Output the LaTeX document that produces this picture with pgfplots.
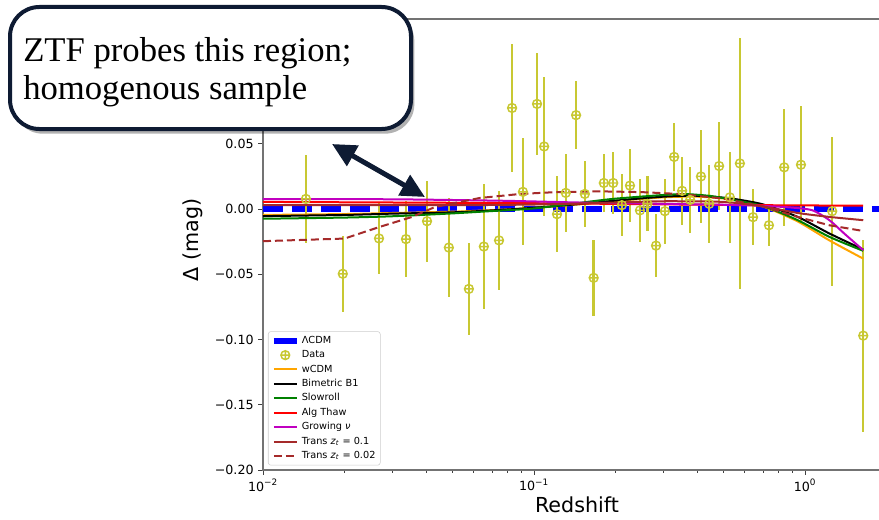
\documentclass[border=0pt]{standalone}
\usepackage{pgfplots}
\usepackage{pgfplotstable}
\pgfplotsset{compat=1.18}
\usepackage{fontspec}
\setmainfont{DejaVu Sans}
\newfontfamily\serifcallout{Liberation Serif}
\usetikzlibrary{arrows.meta,shadows}
\definecolor{datay}{HTML}{C8C832}
\definecolor{mplorange}{HTML}{FFA500}
\definecolor{mplgreen}{HTML}{008000}
\definecolor{mplmag}{HTML}{C000C0}
\definecolor{mplbrown}{HTML}{A52A2A}
\definecolor{navy}{HTML}{0E1B33}

\pgfplotstableread{
z d e
0.0144 0.0078 0.034
0.0197 -0.0496 0.029
0.0268 -0.0225 0.027
0.0337 -0.0230 0.029
0.0403 -0.0093 0.031
0.0485 -0.0295 0.038
0.0575 -0.0612 0.035
0.0653 -0.0287 0.048
0.0743 -0.0240 0.038
0.0830 0.0775 0.049
0.0910 0.0132 0.041
0.1026 0.0806 0.039
0.1090 0.0480 0.053
0.1216 -0.0039 0.029
0.1310 0.0124 0.030
0.1430 0.0720 0.026
0.1540 0.0116 0.025
0.1660 -0.0527 0.029
0.1810 0.0200 0.0225
0.1960 0.0200 0.024
0.2110 0.0030 0.024
0.2260 0.0180 0.028
0.2460 -0.0010 0.024
0.2620 0.0040 0.021
0.2820 -0.0280 0.024
0.3040 -0.0016 0.025
0.3290 0.0400 0.026
0.3520 0.0140 0.026
0.3770 0.0070 0.025
0.4130 0.0250 0.036
0.4430 0.0040 0.030
0.4820 0.0330 0.034
0.5280 0.0090 0.035
0.5750 0.0350 0.096
0.6430 -0.0062 0.0213
0.7360 -0.0124 0.016
0.8380 0.0320 0.045
0.9660 0.0340 0.045
1.2600 -0.0016 0.057
1.6400 -0.0970 0.0736
}\datatable

\begin{document}
\begin{tikzpicture}
\useasboundingbox (0,0) rectangle (659.25pt,389.25pt);
\clip (0,0) rectangle (659.25pt,389.25pt);
\begin{axis}[
  at={(197.25pt,36.75pt)}, anchor=south west,
  scale only axis, width=467.7pt, height=338.25pt,
  xmode=log, xmin=0.01, xmax=2, ymin=-0.2, ymax=0.1457,
  xtick={0.01,0.1,1},
  xticklabels={10\textsuperscript{−2},10\textsuperscript{−1},10\textsuperscript{0}},
  minor xtick={0.02,0.03,0.04,0.05,0.06,0.07,0.08,0.09,0.2,0.3,0.4,0.5,0.6,0.7,0.8,0.9,2},
  ytick={-0.2,-0.15,-0.1,-0.05,0,0.05},
  yticklabels={−0.20,−0.15,−0.10,−0.05,0.00,0.05},
  xtick pos=left, ytick pos=left,
  tick align=outside,
  major tick length=3.5pt, minor tick length=2pt,
  every tick/.style={black!75, line width=0.6pt},
  axis line style={black!55, line width=0.8pt},
  tick label style={font=\fontsize{9.5}{11}\selectfont},
  xlabel={Redshift}, ylabel={Δ (mag)},
  label style={font=\fontsize{15.5}{18}\selectfont},
  xlabel style={at={(axis description cs:0.5035,-0.077)}, anchor=center},
  ylabel style={at={(axis description cs:-0.1123,0.51)}, anchor=center},
  legend cell align=left,
  legend style={at={(axis description cs:0.008,0.01)}, anchor=south west,
    draw=black!20, rounded corners=2pt, fill=white,
    font=\fontsize{7.3}{8.5}\selectfont, inner sep=2pt, row sep=0.6pt,
    nodes={inner sep=1.6pt}},
  every axis plot/.append style={line width=1.5pt},
]
% LCDM
\addplot[blue, line width=4.5pt, dash pattern=on 15pt off 6.75pt,
  legend image code/.code={\draw[blue, line width=4.5pt, solid] (0cm,0cm) -- (0.6cm,0cm);}]
  coordinates {(0.01,0) (2,0)};
\addlegendentry{ΛCDM}
% Data
\addplot[only marks, mark=oplus, mark size=3.3pt, datay, line width=1.1pt,
  error bars/.cd, y dir=both, y explicit,
  error bar style={line width=1.8pt, datay}, error mark=none]
  table[x=z, y=d, y error=e] {\datatable};
\addlegendentry{Data}
% wCDM
\addplot[mplorange, smooth, tension=0.4] coordinates {
(0.01,-0.0045) (0.02,-0.0038) (0.03,-0.003) (0.05,-0.002) (0.07,-0.0008) (0.1,0.001)
(0.15,0.0038) (0.2,0.0062) (0.3,0.009) (0.4,0.0095) (0.53,0.0075) (0.7,0.002)
(0.94,-0.0095) (1.23,-0.024) (1.64,-0.038)};
\addlegendentry{wCDM}
% Bimetric
\addplot[black, smooth, tension=0.4] coordinates {
(0.01,-0.0054) (0.02,-0.0045) (0.03,-0.0035) (0.05,-0.0025) (0.07,-0.001) (0.1,0.001)
(0.15,0.004) (0.2,0.0065) (0.3,0.0095) (0.4,0.0102) (0.53,0.0082) (0.7,0.0036)
(0.94,-0.006) (1.23,-0.0187) (1.64,-0.031)};
\addlegendentry{Bimetric B1}
% Slowroll
\addplot[mplgreen, smooth, tension=0.4] coordinates {
(0.01,-0.0074) (0.02,-0.0065) (0.03,-0.0055) (0.05,-0.0033) (0.07,-0.0015) (0.1,0.0005)
(0.16,0.0057) (0.2,0.008) (0.3,0.0108) (0.37,0.0114) (0.45,0.0100) (0.53,0.0074)
(0.7,0.0023) (0.94,-0.0085) (1.23,-0.0213) (1.64,-0.032)};
\addlegendentry{Slowroll}
% Alg Thaw
\addplot[red, smooth, tension=0.4] coordinates {
(0.01,0.0055) (0.1,0.0045) (0.5,0.0032) (1.0,0.0028) (1.64,0.0026)};
\addlegendentry{Alg Thaw}
% Growing nu
\addplot[mplmag, smooth, tension=0.4] coordinates {
(0.01,0.0077) (0.03,0.0075) (0.076,0.0064) (0.15,0.005) (0.35,0.0038) (0.6,0.003)
(0.85,0.0015) (1.06,-0.0008) (1.23,-0.0085) (1.4,-0.019) (1.64,-0.0315)};
\addlegendentry{Growing \textit{ν}}
% Trans 0.1
\addplot[mplbrown, smooth, tension=0.4] coordinates {
(0.01,0.003) (0.05,0.003) (0.1,0.0035) (0.2,0.005) (0.3,0.006) (0.5,0.0055)
(0.7,0.002) (0.94,-0.003) (1.23,-0.006) (1.64,-0.0085)};
\addlegendentry{Trans \textit{z}\textsubscript{\textit{t}} = 0.1}
% Trans 0.02
\addplot[mplbrown, dash pattern=on 6pt off 3pt] coordinates {
(0.01,-0.0246) (0.02,-0.0226) (0.027,-0.0136) (0.0355,-0.006) (0.043,0.0015)
(0.054,0.0057) (0.063,0.0085) (0.089,0.0116) (0.12,0.013) (0.174,0.0136) (0.25,0.013)
(0.35,0.0115) (0.5,0.008) (0.7,0.002) (0.94,-0.006) (1.23,-0.0124) (1.64,-0.0168)};
\addlegendentry{Trans \textit{z}\textsubscript{\textit{t}} = 0.02}
\end{axis}
% callout
\draw[navy, line width=3pt, rounded corners=22pt, fill=white,
  drop shadow={shadow xshift=2.5pt, shadow yshift=-3.5pt, opacity=0.3, fill=black}]
  (7.5pt,292.5pt) rectangle (308.25pt,384pt);
\node[anchor=base west, inner sep=0pt, font=\serifcallout\fontsize{26}{30}\selectfont]
  at (17.25pt,343pt) {ZTF probes this region;};
\node[anchor=base west, inner sep=0pt, font=\serifcallout\fontsize{26}{30}\selectfont]
  at (17.25pt,314.25pt) {homogenous sample};
\draw[navy, line width=3.75pt,
  {Triangle[length=18pt,width=17pt]}-{Triangle[length=18pt,width=17pt]}]
  (249pt,281.25pt) -- (318.75pt,241.5pt);
\end{tikzpicture}
\end{document}
